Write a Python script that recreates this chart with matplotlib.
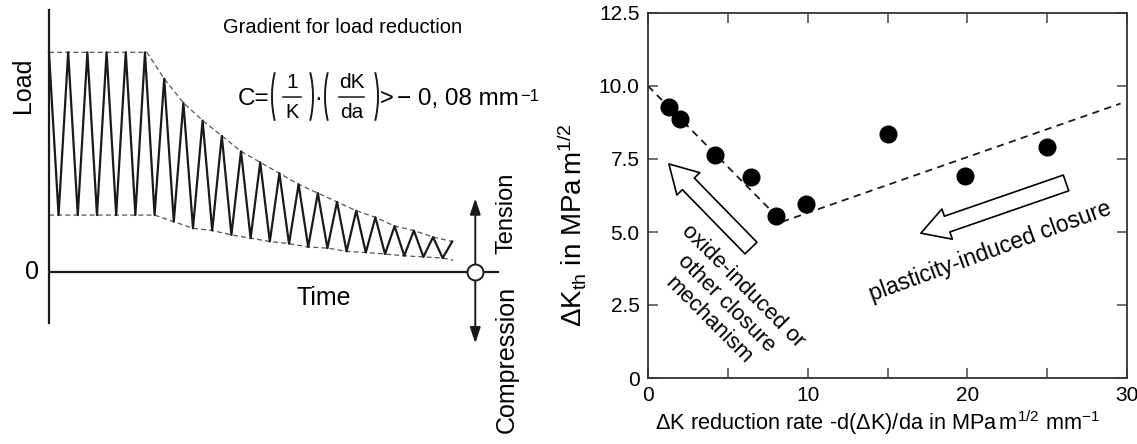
import numpy as np
import matplotlib.pyplot as plt
from matplotlib.patches import Arc

plt.rcParams['font.family'] = ['Liberation Sans', 'DejaVu Sans']
plt.rcParams['mathtext.fontset'] = 'custom'
plt.rcParams['mathtext.rm'] = 'Liberation Sans'
plt.rcParams['mathtext.it'] = 'Liberation Sans'
plt.rcParams['mathtext.sf'] = 'Liberation Sans'
plt.rcParams['mathtext.bf'] = 'Liberation Sans:bold'

# load history (percent of the initial max load): peaks at whole cycles, valleys at half cycles
peak_load = [100, 100, 100, 100, 100, 100, 88, 77, 69, 62, 55, 50,
             45, 40, 36, 32, 28, 25, 21, 19, 16, 14]
valley_load = [26, 26, 26, 26, 26, 26, 23, 20, 19, 17, 15.5, 14,
               13, 11.5, 11, 9.5, 9, 8.3, 7.5, 7, 6.5]
reduction_start = 5.1
end_lower = 5.5

# threshold vs. reduction rate
rate = [1.3, 2.0, 4.2, 6.45, 8.0, 9.9, 15.0, 19.85, 25.0]
dk_th = [9.28, 8.88, 7.64, 6.89, 5.55, 5.97, 8.34, 6.91, 7.91]
oxide_fit_x = [0, 8.4]
oxide_fit_y = [10.0, 5.35]
plastic_fit_x = [8.4, 29.6]
plastic_fit_y = [5.35, 9.4]

INK = '#1a1a1a'

fig = plt.figure(figsize=(11.37, 4.44), dpi=100)

# ---- left: schematic of the load reduction ----
ax1 = fig.add_axes([0, 0, 540 / 1137, 1])
ax1.set_xlim(-2.55, 25.57)
ax1.set_ylim(-78.05, 123.77)
ax1.axis('off')

peak_t = np.arange(len(peak_load))
valley_t = np.arange(len(valley_load)) + 0.5
wave_t = np.empty(len(peak_t) + len(valley_t))
wave_load = np.empty_like(wave_t)
wave_t[0::2], wave_t[1::2] = peak_t, valley_t
wave_load[0::2], wave_load[1::2] = peak_load, valley_load

ax1.plot(wave_t, wave_load, color=INK, lw=1.6, zorder=3)

upper_t = np.r_[0, reduction_start, peak_t[6:]]
upper_l = np.r_[peak_load[0], peak_load[0], peak_load[6:]]
lower_t = np.r_[0, reduction_start, valley_t[5:], peak_t[-1] + 0.05]
lower_l = np.r_[valley_load[0], valley_load[0], valley_load[5:], end_lower]
for t, l in ((upper_t, upper_l), (lower_t, lower_l)):
    ax1.plot(t, l, color='#555555', lw=0.9, dashes=(4, 2.5), zorder=2)

# axes of the sketch
ax1.plot([0, 0], [119, -23], color=INK, lw=1.6)
ax1.plot([0, 23.4], [0, 0], color=INK, lw=1.6)
ax1.annotate('', xy=(22.2, 33.6), xytext=(22.2, -32.3),
             arrowprops=dict(arrowstyle='<|-|>,head_length=0.6,head_width=0.2',
                             color=INK, lw=1.4, shrinkA=0, shrinkB=0,
                             mutation_scale=16))
ax1.plot([22.2], [0], 'o', ms=11.5, mfc='white', mec=INK, mew=1.4, zorder=5)

ax1.text(-1.35, 85, 'Load', rotation=90, fontsize=18, ha='center', va='center')
ax1.text(-0.88, 0, '0', fontsize=18, ha='center', va='center')
ax1.text(14.3, -11.7, 'Time', fontsize=18, ha='center', va='center')
ax1.text(23.85, 26.9, 'Tension', rotation=90, fontsize=17, ha='center', va='center')
ax1.text(23.85, -39.4, 'Compression', rotation=90, fontsize=18, ha='center', va='center')
ax1.text(15.3, 108.8, 'Gradient for load reduction', fontsize=14.5, ha='center', va='baseline')

# gradient formula, set piece by piece on a pixel grid
fx = fig.add_axes([0, 0, 1, 1])
fx.set_xlim(0, 1137)
fx.set_ylim(444, 0)
fx.axis('off')

base, num_base, den_base = 105, 88, 118
fx.text(238, base, 'C=', fontsize=17.5, va='baseline')
for cx, left in ((290, True), (295, False), (343, True), (360, False)):
    th = (122, 238) if left else (-58, 58)
    fx.add_patch(Arc((cx, 96.5), 36, 90, theta1=th[0], theta2=th[1], color=INK, lw=1.4))
fx.text(292, num_base, '1', fontsize=15, ha='center', va='baseline')
fx.plot([283, 301], [97, 97], color=INK, lw=1.1)
fx.text(292, den_base, 'K', fontsize=14.5, ha='center', va='baseline')
fx.text(318.5, base, '·', fontsize=17, ha='center', va='baseline')
fx.text(351.5, num_base, 'dK', fontsize=15, ha='center', va='baseline')
fx.plot([339, 364], [97, 97], color=INK, lw=1.1)
fx.text(351.5, den_base, 'da', fontsize=15, ha='center', va='baseline')
fx.text(387, base, '>', fontsize=17, ha='center', va='baseline')
val = fx.text(397, base, '\u2212 0, 08 mm', fontsize=17.5, va='baseline')
fx.annotate('\u22121', xy=(1.01, 0.95), xycoords=val, fontsize=12,
            ha='left', va='top')

# ---- right: threshold data ----
ax2 = fig.add_axes([648 / 1137, 66 / 444, 479 / 1137, 365 / 444])
ax2.plot(oxide_fit_x, oxide_fit_y, color=INK, lw=1.3, dashes=(4, 3))
ax2.plot(plastic_fit_x, plastic_fit_y, color=INK, lw=1.3, dashes=(4, 3))
ax2.plot(rate, dk_th, 'o', ms=12, color='black', zorder=4)

ax2.set_xlim(0, 30)
ax2.set_ylim(0, 12.5)
ax2.set_xticks([0, 10, 20, 30])
ax2.set_xticks([5, 15, 25], minor=True)
ax2.set_yticks([0, 2.5, 5, 7.5, 10, 12.5])
ax2.set_yticklabels(['0', '2.5', '5.0', '7.5', '10.0', '12.5'])
ax2.tick_params(which='both', direction='in', length=7, width=1.2, color='#555555',
                top=True, right=True, labelsize=15, pad=6)
for sp in ax2.spines.values():
    sp.set_color('#333333')
    sp.set_linewidth(1.3)

block = dict(arrowstyle='simple,head_length=1.0,head_width=1.15,tail_width=0.6',
             fc='white', ec='black', lw=1.2, shrinkA=0, shrinkB=0, mutation_scale=20)
ax2.annotate('', xy=(1.31, 7.33), xytext=(6.45, 4.45), arrowprops=block)
ax2.annotate('', xy=(17.09, 4.96), xytext=(26.18, 6.68), arrowprops=block)

ax2.text(4.9, 2.55, 'oxide-induced or\nother closure\nmechanism', rotation=-45,
         rotation_mode='anchor', ha='center', va='center', fontsize=16,
         multialignment='center')
ax2.text(21.45, 4.33, 'plasticity-induced closure', rotation=20,
         rotation_mode='anchor', ha='center', va='center', fontsize=16.5)

ax2.set_ylabel(r'ΔK$_{\rm th}$ in MPa$\,$m$^{1/2}$', fontsize=20)
ax2.yaxis.set_label_coords(-0.125, 0.42)
ax2.set_xlabel(r'ΔK reduction rate -d(ΔK)/da in MPa$\,$m$^{1/2}$ mm$^{-1}$', fontsize=15.7)
ax2.xaxis.set_label_coords(0.48, -0.082)

fig.savefig('out.png', dpi=100)
